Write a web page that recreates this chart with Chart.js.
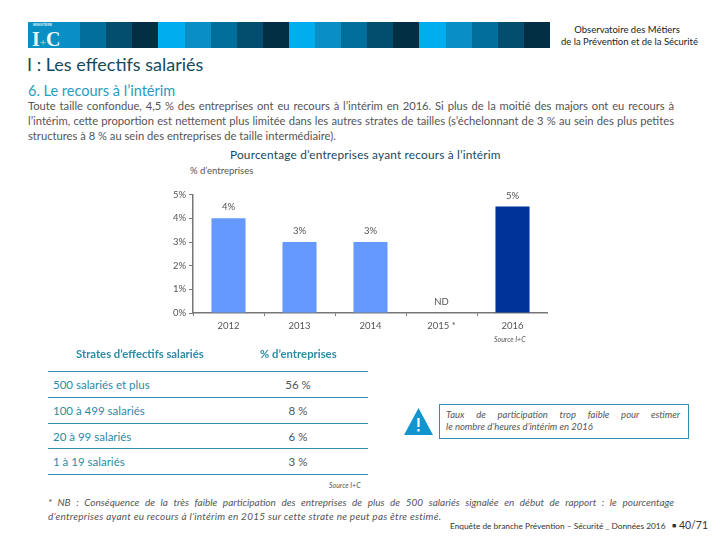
<!DOCTYPE html>
<html lang="fr">
<head>
<meta charset="utf-8">
<title>Le recours à l'intérim</title>
<script src="https://cdn.jsdelivr.net/npm/chart.js@4"></script>
<style>
html, body { margin: 0; padding: 0; background: #fff; }
#page { position: relative; width: 720px; height: 540px; overflow: hidden; font-family: Lato, sans-serif; color: #555; }
#page > div, #page > svg { position: absolute; white-space: nowrap; }
#chartBox { left: 150px; top: 186px; width: 398px; height: 157px; }
.just { text-align: justify; text-align-last: justify; }
.rule { height: 1px; background: #2f8fae; left: 48px; width: 320px; }
.strate { left: 53px; font-size: 11.5px; color: #2c8ba6; }
.pct { left: 268px; width: 60px; text-align: center; font-size: 11.5px; color: #555; }
</style>
</head>
<body>
<div id="page">
  <div id="band" style="left:28px;top:22px;width:522px;height:26px;display:flex"></div>
  <div style="left:33px;top:23px;font:bold 3.5px/4px 'Liberation Sans';color:#d8eef7">MINISTÈRE</div>
  <div style="left:32px;top:31px;font:bold 20px/17px 'Liberation Serif';color:#eef8fc">I<span style="font-size:11px;color:#b9c6cb">+</span>C</div>

  <div style="left:560px;width:138px;top:24px;font-size:9.5px;line-height:12px;color:#222;text-align:right">
    <div style="padding-right:4px;text-align:center">Observatoire des Métiers</div>
    <div>de la Prévention et de la Sécurité</div>
  </div>

  <div style="left:27px;top:53px;font-size:18px;color:#17495d">I : Les effectifs salariés</div>
  <div style="left:28px;top:82px;font-size:14.5px;color:#2a9bbd">6. Le recours à l’intérim</div>

  <div class="just" style="left:28px;top:99px;width:646px;font-size:11.2px;color:#555">Toute taille confondue, 4,5 % des entreprises ont eu recours à l’intérim en 2016. Si plus de la moitié des majors ont eu recours à</div>
  <div class="just" style="left:28px;top:114px;width:646px;font-size:11.2px;color:#555">l’intérim, cette proportion est nettement plus limitée dans les autres strates de tailles (s’échelonnant de 3 % au sein des plus petites</div>
  <div style="left:28px;top:129px;font-size:11.2px;color:#555">structures à 8 % au sein des entreprises de taille intermédiaire).</div>

  <div style="left:230px;top:147px;font-size:11.8px;letter-spacing:.2px;color:#17495d">Pourcentage d’entreprises ayant recours à l’intérim</div>
  <div style="left:190px;top:165px;font-size:9.5px;color:#555">% d’entreprises</div>

  <div id="chartBox"><canvas id="myChart"></canvas></div>
  <div style="left:494px;top:335px;font-size:7px;font-style:italic;color:#555">Source I+C</div>

  <div style="left:76px;top:347px;font-size:11.3px;font-weight:bold;color:#2c8ba6">Strates d’effectifs salariés</div>
  <div style="left:260px;top:347px;font-size:11.3px;font-weight:bold;color:#2c8ba6">% d’entreprises</div>
  <div id="table"></div>
  <div style="left:329px;top:481px;font-size:7px;font-style:italic;color:#555">Source I+C</div>

  <svg style="left:404px;top:408px" width="29" height="28" viewBox="0 0 29 28"><path d="M14.5 0 L29 27 L0 27 Z" fill="#1295cf"/><rect x="13.4" y="10" width="2.2" height="9" fill="#fff"/><rect x="13.4" y="21" width="2.2" height="2.4" fill="#fff"/></svg>
  <div style="left:439px;top:404px;width:248px;height:33px;border:1px solid #2f8fae"></div>
  <div class="just" style="left:446px;top:409px;width:234px;font-size:9.5px;font-style:italic;color:#555">Taux de participation trop faible pour estimer</div>
  <div style="left:446px;top:421px;font-size:9.5px;font-style:italic;color:#555">le nombre d’heures d’intérim en 2016</div>

  <div class="just" style="left:48px;top:496px;width:626px;font-size:10px;font-style:italic;color:#555">* NB : Conséquence de la très faible participation des entreprises de plus de 500 salariés signalée en début de rapport : le pourcentage</div>
  <div style="left:48px;top:510px;font-size:10px;font-style:italic;letter-spacing:.25px;color:#555">d’entreprises ayant eu recours à l’intérim en 2015 sur cette strate ne peut pas être estimé.</div>
  <div style="left:450px;top:521px;font-size:8.3px;color:#333">Enquête de branche Prévention – Sécurité _ Données 2016</div>
  <div style="left:672px;top:519px;font-size:10.5px;color:#333"><span style="font-size:7px;vertical-align:1px">■</span> 40/71</div>
</div>

<script>
// values
const years = ['2012', '2013', '2014', '2015 *', '2016'];
const recours = [4, 3, 3, null, 4.5];
const barLabels = ['4%', '3%', '3%', 'ND', '5%'];
const barColors = ['#6699ff', '#6699ff', '#6699ff', '#6699ff', '#003399'];
const yTicks = ['0%', '1%', '2%', '3%', '4%', '5%'];

const strates = ['500 salariés et plus', '100 à 499 salariés', '20 à 99 salariés', '1 à 19 salariés'];
const stratePct = ['56 %', '8 %', '6 %', '3 %'];

const bandColors = ['#0a8fc4', '#0a8fc4', '#006f9c', '#034e6f', '#022f44',
  '#00aeef', '#0a8fc4', '#006f9c', '#034e6f', '#022f44',
  '#00aeef', '#0a8fc4', '#006f9c', '#034e6f', '#022f44',
  '#00aeef', '#0a8fc4', '#006f9c', '#034e6f', '#022f44'];

// header band
const band = document.getElementById('band');
bandColors.forEach(function (c) {
  const d = document.createElement('div');
  d.style.background = c;
  d.style.flex = '1 1 0';
  band.appendChild(d);
});

// table under the chart
const page = document.getElementById('page');
const ruleTops = [371, 397, 423, 448, 474];
ruleTops.forEach(function (t) {
  const r = document.createElement('div');
  r.className = 'rule';
  r.style.top = t + 'px';
  page.appendChild(r);
});
strates.forEach(function (s, i) {
  const a = document.createElement('div');
  a.className = 'strate';
  a.style.top = (ruleTops[i] + 7) + 'px';
  a.textContent = s;
  page.appendChild(a);
  const b = document.createElement('div');
  b.className = 'pct';
  b.style.top = (ruleTops[i] + 7) + 'px';
  b.textContent = stratePct[i];
  page.appendChild(b);
});

// text above each bar, ND sits on the axis
const barText = {
  id: 'barText',
  afterDatasetsDraw(chart) {
    const ctx = chart.ctx;
    const xs = chart.scales.x, ys = chart.scales.y;
    ctx.save();
    ctx.font = '9.5px Lato';
    ctx.fillStyle = '#555';
    ctx.textAlign = 'center';
    ctx.textBaseline = 'middle';
    recours.forEach(function (v, i) {
      const top = ys.getPixelForValue(v === null ? 0 : v);
      ctx.fillText(barLabels[i], xs.getPixelForValue(i), top - 11);
    });
    ctx.restore();
  }
};

const config = {
  type: 'bar',
  data: {
    labels: years,
    datasets: [{
      data: recours,
      backgroundColor: barColors,
      barPercentage: 0.48,
      categoryPercentage: 1
    }]
  },
  options: {
    responsive: true,
    maintainAspectRatio: false,
    animation: false,
    plugins: { legend: { display: false }, tooltip: { enabled: false } },
    scales: {
      x: {
        grid: { drawOnChartArea: false, offset: true, tickLength: 3, tickColor: '#777' },
        border: { color: '#777', width: 1.5 },
        afterFit(s) { s.height = 30; },
        ticks: { color: '#555', font: { size: 9.5, family: 'Lato' }, padding: 4, maxRotation: 0 }
      },
      y: {
        min: 0,
        max: 5,
        grid: { drawOnChartArea: false, tickLength: 4, tickColor: '#777' },
        border: { color: '#777', width: 1.5 },
        afterFit(s) { s.width = 43; },
        ticks: {
          stepSize: 1,
          color: '#555',
          font: { size: 9.5, family: 'Lato' },
          callback: function (v) { return yTicks[v]; }
        }
      }
    }
  },
  plugins: [barText]
};

const myChart = new Chart(document.getElementById('myChart'), config);
</script>
</body>
</html>
